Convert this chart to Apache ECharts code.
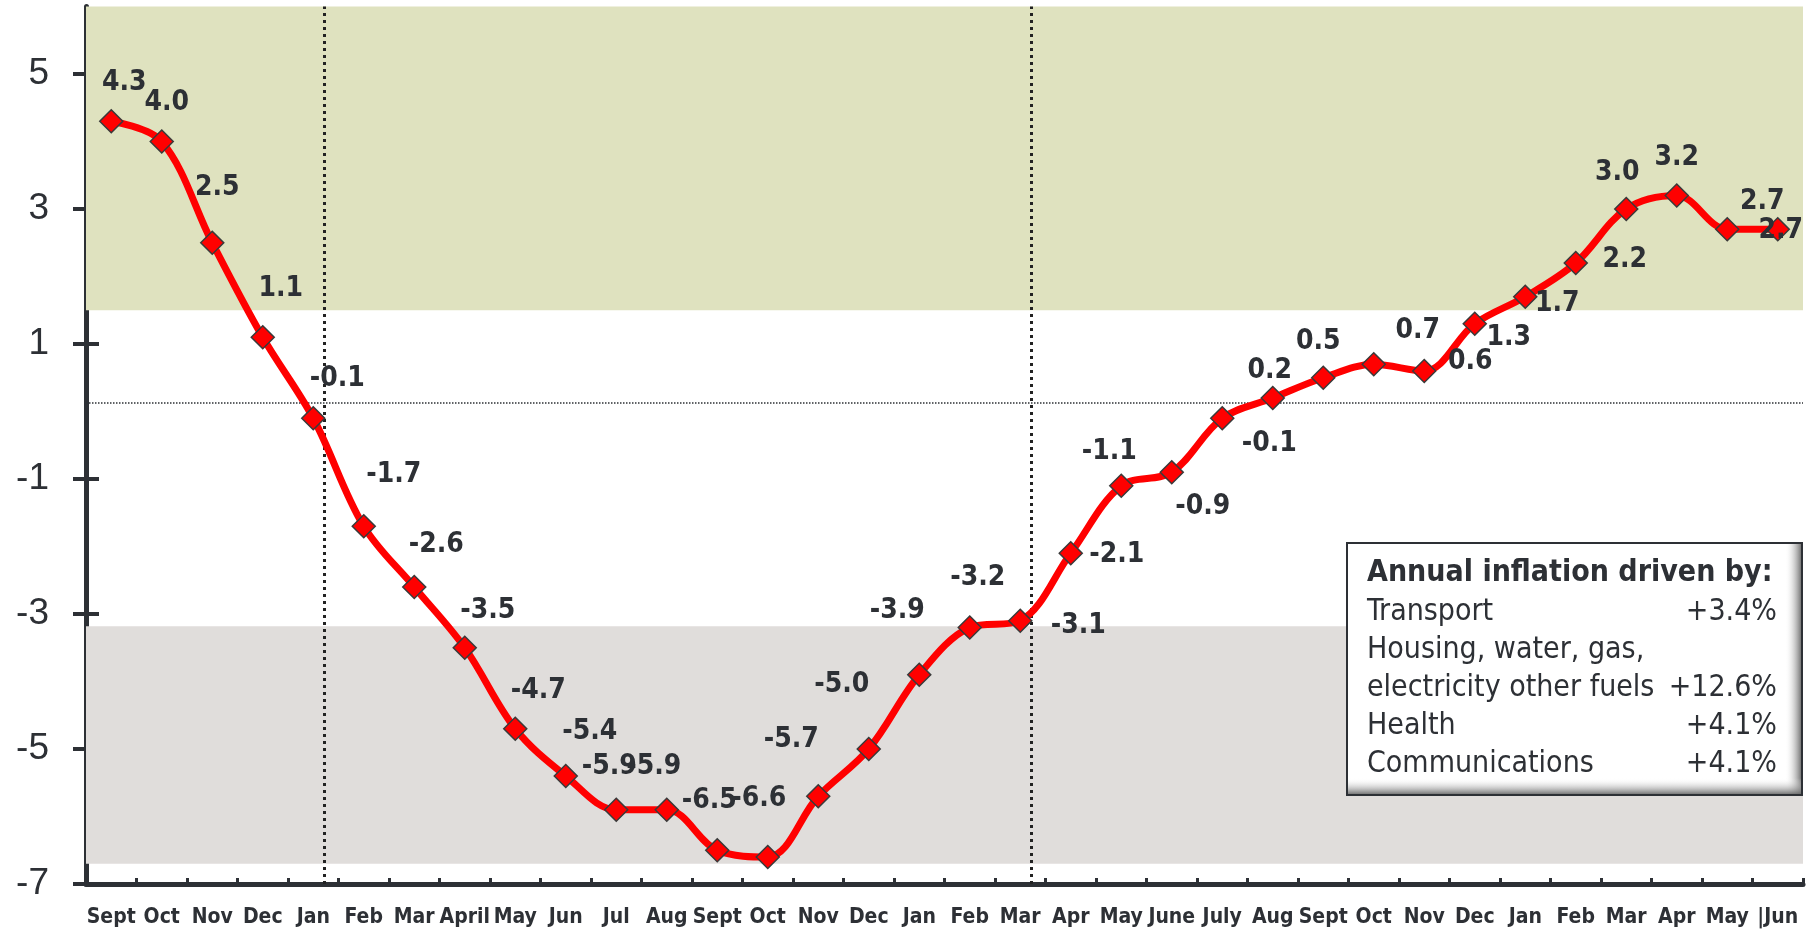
<!DOCTYPE html>
<html>
<head>
<meta charset="utf-8">
<script src="https://cdn.jsdelivr.net/npm/echarts@6/dist/echarts.min.js"></script>
<style>
  html, body { margin: 0; padding: 0; background: #fff; }
  #chart { width: 1813px; height: 933px; }
</style>
</head>
<body>
<div id="chart"></div>
<script>
// data
var months = ['Sept', 'Oct', 'Nov', 'Dec', 'Jan', 'Feb', 'Mar', 'April', 'May', 'Jun', 'Jul', 'Aug',
  'Sept', 'Oct', 'Nov', 'Dec', 'Jan', 'Feb', 'Mar', 'Apr', 'May', 'June', 'July', 'Aug',
  'Sept', 'Oct', 'Nov', 'Dec', 'Jan', 'Feb', 'Mar', 'Apr', 'May', '|Jun'];
var inflation = [4.3, 4.0, 2.5, 1.1, -0.1, -1.7, -2.6, -3.5, -4.7, -5.4, -5.9, -5.9,
  -6.5, -6.6, -5.7, -5.0, -3.9, -3.2, -3.1, -2.1, -1.1, -0.9, -0.1, 0.2,
  0.5, 0.7, 0.6, 1.3, 1.7, 2.2, 3.0, 3.2, 2.7, 2.7];
var yTicks = [-7, -5, -3, -1, 1, 3, 5];
var highBand = [1.5, 6];       // green zone
var lowBand = [-6.7, -3.18];   // grey zone
var guideX = [4.72, 18.72];    // dotted verticals (in month slots, 0 = left edge)
var guideY = 0.13;             // dotted horizontal

var boxTitle = 'Annual inflation driven by:';
var driverNames = ['Transport', 'Housing, water, gas,', 'electricity other fuels', 'Health', 'Communications'];
var driverValues = ['+3.4%', '', '+12.6%', '+4.1%', '+4.1%'];

// where each value label sits relative to its marker (px)
var labelShift = [[13, -39], [5, -39], [5, -55], [18, -49], [24, -40], [30, -52], [22, -42], [23, -37],
  [23, -38], [24, -44], [-7, -43], [-13, -43], [-8, -50], [-9, -58], [-27, -57], [-27, -64],
  [-22, -64], [8, -50], [58, 5], [46, 1], [-12, -34], [31, 34], [47, 25], [-3, -27],
  [-5, -36], [44, -34], [46, -9], [34, 14], [32, 7], [49, -3], [-9, -36], [0, -38],
  [35, -28], [3, 1]];

var ink = '#2d3035';
var condensed = '"DejaVu Sans Condensed", "DejaVu Sans", sans-serif';

var pointData = [];
inflation.forEach(function(v, i) {
  pointData.push({ value: v, label: { offset: labelShift[i] } });
});

// legend box on the right
var boxW = 455, boxH = 252;
var boxChildren = [
  { type: 'rect', z: 100, shape: { x: 0, y: 0, width: boxW, height: boxH }, style: { fill: '#fff' } },
  { type: 'rect', z: 101, shape: { x: boxW - 17, y: 0, width: 17, height: boxH },
    style: { fill: new echarts.graphic.LinearGradient(0, 0, 1, 0, [
      { offset: 0, color: 'rgba(255,255,255,0)' }, { offset: 1, color: 'rgba(95,95,95,0.95)' }]) } },
  { type: 'rect', z: 101, shape: { x: 0, y: boxH - 17, width: boxW, height: 17 },
    style: { fill: new echarts.graphic.LinearGradient(0, 0, 0, 1, [
      { offset: 0, color: 'rgba(255,255,255,0)' }, { offset: 1, color: 'rgba(95,95,95,0.95)' }]) } },
  { type: 'rect', z: 102, shape: { x: 0, y: 0, width: boxW, height: boxH },
    style: { fill: 'none', stroke: ink, lineWidth: 2 } },
  { type: 'text', z: 103, x: 20, y: 30,
    style: { text: boxTitle, fill: ink, fontFamily: condensed, fontWeight: 'bold', fontSize: 30, verticalAlign: 'middle' } }
];
driverNames.forEach(function(name, i) {
  var rowY = 69 + i * 38;
  boxChildren.push({ type: 'text', z: 103, x: 20, y: rowY,
    style: { text: name, fill: ink, fontFamily: condensed, fontSize: 30, verticalAlign: 'middle' } });
  if (driverValues[i]) {
    boxChildren.push({ type: 'text', z: 103, x: 430, y: rowY,
      style: { text: driverValues[i], fill: ink, fontFamily: condensed, fontSize: 30, align: 'right', verticalAlign: 'middle' } });
  }
});

var chart = echarts.init(document.getElementById('chart'));
chart.setOption({
  animation: false,
  backgroundColor: '#fff',
  grid: { left: 86, right: 10, top: 6.5, bottom: 49 },
  xAxis: [{
    type: 'category',
    data: months,
    boundaryGap: true,
    axisLine: { onZero: false, lineStyle: { color: ink, width: 5 } },
    axisTick: { length: 6, lineStyle: { color: ink, width: 3 } },
    axisLabel: { interval: 0, margin: 23, color: ink, fontFamily: condensed, fontWeight: 'bold', fontSize: 21 },
    splitLine: { show: false }
  }, {
    // helper axis in month slots, carries the inner half of the ticks and the guides
    type: 'value',
    position: 'bottom',
    min: 0,
    max: months.length,
    interval: 1,
    axisLine: { show: false, onZero: false },
    axisTick: { show: true, inside: true, length: 6, lineStyle: { color: ink, width: 3 } },
    axisLabel: { show: false },
    splitLine: { show: false }
  }],
  yAxis: [{
    type: 'value',
    min: -7,
    max: 6,
    axisLine: { show: true, onZero: false, lineStyle: { color: ink, width: 5 } },
    axisTick: { show: true, length: 13, customValues: yTicks, lineStyle: { color: ink, width: 4 } },
    axisLabel: { margin: 37, customValues: yTicks, color: ink, fontFamily: '"Liberation Sans", Arial, sans-serif', fontSize: 37 },
    splitLine: { show: false }
  }, {
    type: 'value',
    position: 'left',
    min: -7,
    max: 6,
    axisLine: { show: false, onZero: false },
    axisTick: { show: true, inside: true, length: 13, customValues: yTicks, lineStyle: { color: ink, width: 4 } },
    axisLabel: { show: false },
    splitLine: { show: false }
  }],
  graphic: [{ type: 'group', x: 1347, y: 543, children: boxChildren }],
  series: [{
    name: 'guides',
    type: 'line',
    xAxisIndex: 1,
    yAxisIndex: 0,
    data: [],
    silent: true,
    markArea: {
      silent: true,
      data: [
        [{ yAxis: highBand[0], itemStyle: { color: '#dfe2bf' } }, { yAxis: highBand[1] }],
        [{ yAxis: lowBand[0], itemStyle: { color: '#e0dddb' } }, { yAxis: lowBand[1] }]
      ]
    },
    markLine: {
      silent: true,
      symbol: 'none',
      label: { show: false },
      data: [
        { xAxis: guideX[0], lineStyle: { color: '#222', width: 3, type: [3, 4] } },
        { xAxis: guideX[1], lineStyle: { color: '#222', width: 3, type: [3, 4] } },
        { yAxis: guideY, lineStyle: { color: ink, width: 1.5, type: [1.5, 1.5] } }
      ]
    }
  }, {
    name: 'Annual inflation',
    type: 'line',
    z: 10,
    data: pointData,
    smooth: 0.35,
    symbol: 'diamond',
    symbolSize: 23,
    lineStyle: { color: '#ff0000', width: 7 },
    itemStyle: { color: '#ff0000', borderColor: '#3a3a3a', borderWidth: 1.5 },
    label: {
      show: true,
      position: 'inside',
      color: ink,
      fontFamily: condensed,
      fontWeight: 'bold',
      fontSize: 28,
      formatter: function(p) { return p.value.toFixed(1); }
    }
  }]
});
</script>
</body>
</html>
